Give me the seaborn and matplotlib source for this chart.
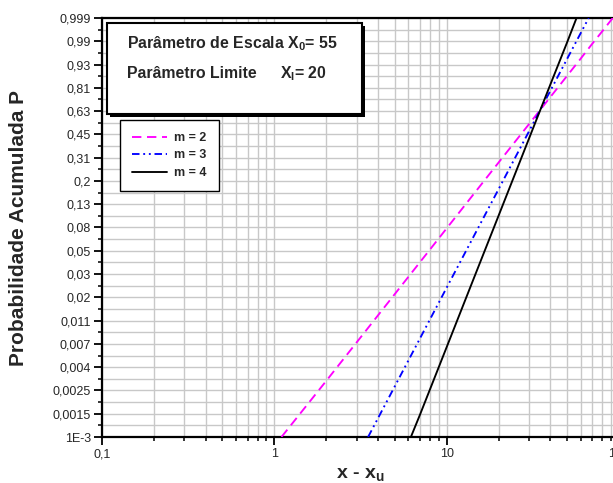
import numpy as np
import pandas as pd
import matplotlib
matplotlib.use("Agg")
import matplotlib.pyplot as plt
import matplotlib.ticker as mticker
import matplotlib.patheffects as pe
from matplotlib.patches import Rectangle
import seaborn as sns

# Weibull probability paper: x - x_u against cumulative probability P
x_m2 = [1.1, 2, 3, 5, 7, 10, 15, 20, 30, 40, 50, 60, 70, 80, 92]
p_m2 = [0.001, 0.00326, 0.00732, 0.0202, 0.0392, 0.0784, 0.168, 0.279,
        0.520, 0.729, 0.870, 0.947, 0.982, 0.9946, 0.999]
x_m3 = [3.5, 5, 7, 10, 15, 20, 30, 40, 50, 60, 66.7]
p_m3 = [0.001, 0.00291, 0.00797, 0.0231, 0.0757, 0.170, 0.467, 0.775,
        0.946, 0.9935, 0.999]
x_m4 = [6.2, 7, 10, 14, 20, 30, 40, 50, 56.7]
p_m4 = [0.001, 0.0016, 0.00664, 0.0253, 0.101, 0.417, 0.818, 0.984, 0.999]
series_labels = ["m = 2", "m = 3", "m = 4"]

y_tick_labels = ["1E-3", "0,0015", "0,0025", "0,004", "0,007", "0,011",
                 "0,02", "0,03", "0,05", "0,08", "0,13", "0,2", "0,31",
                 "0,45", "0,63", "0,81", "0,93", "0,99", "0,999"]
x_ticks = [0.1, 1, 10, 100]
x_tick_labels = ["0,1", "1", "10", "100"]

sns.set_theme(style="white")
plt.rcParams["font.family"] = ["Liberation Sans", "DejaVu Sans"]
plt.rcParams["mathtext.fontset"] = "custom"
plt.rcParams["mathtext.rm"] = "Liberation Sans"
plt.rcParams["mathtext.bf"] = "Liberation Sans:bold"


def weib(p):
    p = np.clip(np.asarray(p, dtype=float), 1e-12, 1 - 1e-12)
    return np.log(-np.log1p(-p))


def weib_inv(t):
    return -np.expm1(-np.exp(np.asarray(t, dtype=float)))


df = pd.concat([
    pd.DataFrame({"x": x_m2, "P": p_m2, "m": series_labels[0]}),
    pd.DataFrame({"x": x_m3, "P": p_m3, "m": series_labels[1]}),
    pd.DataFrame({"x": x_m4, "P": p_m4, "m": series_labels[2]}),
], ignore_index=True)

fig = plt.figure(figsize=(6.13, 4.83), dpi=100)
ax = fig.add_axes([102 / 613, 1 - 437 / 483, 517 / 613, 419 / 483])
ax.set_xscale("log")
ax.set_yscale("function", functions=(weib, weib_inv))

sns.lineplot(data=df, x="x", y="P", hue="m", style="m",
             palette={series_labels[0]: "#ff00ff", series_labels[1]: "#0000ff",
                      series_labels[2]: "#000000"},
             dashes={series_labels[0]: (5, 3), series_labels[1]: (4, 2, 1, 2, 1, 2),
                     series_labels[2]: ""},
             estimator=None, sort=False, lw=1.35, ax=ax, zorder=3)

ax.set_xlim(0.1, 100)
ax.set_ylim(0.001, 0.999)

# evenly spaced probability ticks along the Weibull axis
t = np.linspace(weib(0.001), weib(0.999), len(y_tick_labels))
ax.set_yticks(weib_inv(t))
ax.set_yticklabels(y_tick_labels)
ax.set_yticks(weib_inv((t[:-1] + t[1:]) / 2), minor=True)

ax.set_xticks(x_ticks)
ax.set_xticklabels(x_tick_labels)
ax.xaxis.set_minor_locator(mticker.LogLocator(base=10, subs=np.arange(2, 10)))
ax.xaxis.set_minor_formatter(mticker.NullFormatter())

ax.grid(which="both", color="#c8c8c8", lw=1.0)
ax.set_axisbelow(True)

for side in ["left", "bottom", "top", "right"]:
    ax.spines[side].set_color("black")
    ax.spines[side].set_linewidth(1.6)
ax.tick_params(which="major", direction="out", length=6, width=1.3,
               labelsize=9, color="black", left=True, bottom=True, pad=2)
ax.tick_params(which="minor", direction="out", length=3, width=1.1,
               color="black", left=True, bottom=True)

ax.set_xlabel(r"x - x$_\mathbf{u}$", fontsize=14, fontweight="bold", labelpad=5)
ax.set_ylabel("Probabilidade Acumulada P", fontsize=15, fontweight="bold", labelpad=18)

# parameter box
box = Rectangle((0.0097, 0.771), 0.493, 0.217, transform=ax.transAxes,
                facecolor="white", edgecolor="black", lw=1.5, zorder=5,
                path_effects=[pe.SimplePatchShadow(offset=(2, -2), shadow_rgbFace="black", alpha=1),
                              pe.Normal()])
ax.add_patch(box)
ax.text(25 / 517, (437 - 48) / 419, r"Parâmetro de Escala X$_\mathbf{0}$= 55",
        transform=ax.transAxes, fontsize=11.4, fontweight="bold", zorder=6, va="baseline")
ax.text(25 / 517, (437 - 78) / 419, "Parâmetro Limite",
        transform=ax.transAxes, fontsize=11.4, fontweight="bold", zorder=6, va="baseline")
ax.text(178 / 517, (437 - 78) / 419, r"X$_\mathbf{l}$= 20",
        transform=ax.transAxes, fontsize=11.4, fontweight="bold", zorder=6, va="baseline")

handles, labels = ax.get_legend_handles_labels()
leg = ax.legend(handles, labels, loc="upper left", bbox_to_anchor=(18 / 517, (437 - 120) / 419),
                borderaxespad=0, frameon=True, fancybox=False, framealpha=1,
                edgecolor="black", prop={"weight": "bold", "size": 9},
                handlelength=2.8, handletextpad=0.6,
                labelspacing=0.45, borderpad=0.95)
leg.get_frame().set_linewidth(1.0)
leg.set_zorder(6)

fig.savefig("out.png", dpi=100)
